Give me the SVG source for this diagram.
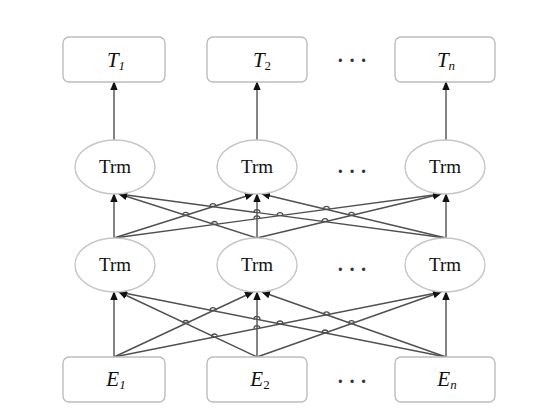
<svg xmlns="http://www.w3.org/2000/svg" width="542" height="418" viewBox="0 0 542 418">
<style>
.box{fill:#fff;stroke:#bdbdbd;stroke-width:1.4}
.ell{fill:#fff;stroke:#c6c6c6;stroke-width:1.4}
.lbl{font-family:"Liberation Serif",serif;font-size:21px;font-style:italic;fill:#111;text-anchor:middle}
.sub{font-size:13px}
.trm{font-family:"Liberation Serif",serif;font-size:19px;fill:#111;text-anchor:middle}
.dots{font-family:"Liberation Serif",serif;font-size:20px;font-weight:bold;fill:#333;text-anchor:middle}
.ln{stroke:#505050;stroke-width:1.4;fill:none}
.hop{stroke:#505050;stroke-width:1.3;fill:none}
</style>
<defs>
<marker id="ah" markerWidth="9" markerHeight="9" refX="8" refY="4.5" orient="auto" markerUnits="userSpaceOnUse">
<path d="M0,0.8 L9,4.5 L0,8.2 Z" fill="#111"/>
</marker>
</defs>
<rect width="542" height="418" fill="#fff"/>
<g id="connectors">
<line class="ln" x1="114" y1="140" x2="114" y2="82" marker-end="url(#ah)"/>
<line class="ln" x1="257" y1="140" x2="257" y2="82" marker-end="url(#ah)"/>
<line class="ln" x1="446" y1="140" x2="446" y2="82" marker-end="url(#ah)"/>
<g id="upper-layer">
<line class="ln" x1="114" y1="238" x2="114" y2="194" marker-end="url(#ah)"/>
<line class="ln" x1="257" y1="238" x2="257" y2="194" marker-end="url(#ah)"/>
<line class="ln" x1="446" y1="238" x2="446" y2="194" marker-end="url(#ah)"/>
<line class="ln" x1="114" y1="238" x2="253" y2="194" marker-end="url(#ah)"/>
<line class="ln" x1="114" y1="238" x2="441" y2="194" marker-end="url(#ah)"/>
<line class="ln" x1="257" y1="238" x2="119" y2="194" marker-end="url(#ah)"/>
<line class="ln" x1="257" y1="238" x2="441" y2="194" marker-end="url(#ah)"/>
<line class="ln" x1="446" y1="238" x2="119" y2="194" marker-end="url(#ah)"/>
<line class="ln" x1="446" y1="238" x2="262" y2="194" marker-end="url(#ah)"/>
<path class="hop" d="M182.8,215.3 a3,3 0 0 1 6,0 M210,206.7 a3,3 0 0 1 6,0 M211.6,224.5 a3,3 0 0 1 6,0 M254,212.6 a3,3 0 0 1 6,0 M254,218.8 a3,3 0 0 1 6,0 M277,215.7 a3,3 0 0 1 6,0 M323.5,209.4 a3,3 0 0 1 6,0 M322.1,221.7 a3,3 0 0 1 6,0 M348.5,215.4 a3,3 0 0 1 6,0"/>
</g>
<g id="lower-layer">
<line class="ln" x1="114" y1="357" x2="114" y2="292" marker-end="url(#ah)"/>
<line class="ln" x1="257" y1="357" x2="257" y2="292" marker-end="url(#ah)"/>
<line class="ln" x1="446" y1="357" x2="446" y2="292" marker-end="url(#ah)"/>
<line class="ln" x1="114" y1="357" x2="253" y2="292" marker-end="url(#ah)"/>
<line class="ln" x1="114" y1="357" x2="441" y2="292" marker-end="url(#ah)"/>
<line class="ln" x1="257" y1="357" x2="119" y2="292" marker-end="url(#ah)"/>
<line class="ln" x1="257" y1="357" x2="441" y2="292" marker-end="url(#ah)"/>
<line class="ln" x1="446" y1="357" x2="119" y2="292" marker-end="url(#ah)"/>
<line class="ln" x1="446" y1="357" x2="262" y2="292" marker-end="url(#ah)"/>
<path class="hop" d="M182.8,323.5 a3,3 0 0 1 6,0 M210,310.7 a3,3 0 0 1 6,0 M211.6,337 a3,3 0 0 1 6,0 M254,319.4 a3,3 0 0 1 6,0 M254,328.6 a3,3 0 0 1 6,0 M277,324 a3,3 0 0 1 6,0 M323.5,314.8 a3,3 0 0 1 6,0 M322.1,333 a3,3 0 0 1 6,0 M348.5,323.6 a3,3 0 0 1 6,0"/>
</g>
</g>
<g id="T1"><rect class="box" x="63" y="37" width="102" height="45" rx="6"/><text class="lbl" x="116" y="67">T<tspan class="sub" dy="3">1</tspan></text></g>
<g id="T2"><rect class="box" x="207" y="37" width="100" height="45" rx="6"/><text class="lbl" x="262" y="67">T<tspan class="sub" dy="3" font-style="normal">2</tspan></text></g>
<g id="Tn"><rect class="box" x="395" y="37" width="100" height="45" rx="6"/><text class="lbl" x="446" y="67">T<tspan class="sub" dy="3">n</tspan></text></g>
<g id="Trm-u1"><ellipse class="ell" cx="115" cy="167" rx="40" ry="27"/><text class="trm" x="115" y="173">Trm</text></g>
<g id="Trm-u2"><ellipse class="ell" cx="257" cy="167" rx="40" ry="27"/><text class="trm" x="257" y="173">Trm</text></g>
<g id="Trm-u3"><ellipse class="ell" cx="445" cy="167" rx="40" ry="27"/><text class="trm" x="445" y="173">Trm</text></g>
<g id="Trm-l1"><ellipse class="ell" cx="115" cy="265" rx="40" ry="27"/><text class="trm" x="115" y="271">Trm</text></g>
<g id="Trm-l2"><ellipse class="ell" cx="257" cy="265" rx="40" ry="27"/><text class="trm" x="257" y="271">Trm</text></g>
<g id="Trm-l3"><ellipse class="ell" cx="445" cy="265" rx="40" ry="27"/><text class="trm" x="445" y="271">Trm</text></g>
<g id="E1"><rect class="box" x="63" y="357" width="102" height="45" rx="6"/><text class="lbl" x="116" y="386">E<tspan class="sub" dy="3">1</tspan></text></g>
<g id="E2"><rect class="box" x="207" y="357" width="100" height="45" rx="6"/><text class="lbl" x="260" y="386">E<tspan class="sub" dy="3" font-style="normal">2</tspan></text></g>
<g id="En"><rect class="box" x="395" y="357" width="100" height="45" rx="6"/><text class="lbl" x="447" y="386">E<tspan class="sub" dy="3">n</tspan></text></g>
<g id="ellipses-dots">
<text class="dots" x="352" y="67">· · ·</text>
<text class="dots" x="352" y="178">· · ·</text>
<text class="dots" x="352" y="276">· · ·</text>
<text class="dots" x="352" y="388">· · ·</text>
</g>
</svg>
